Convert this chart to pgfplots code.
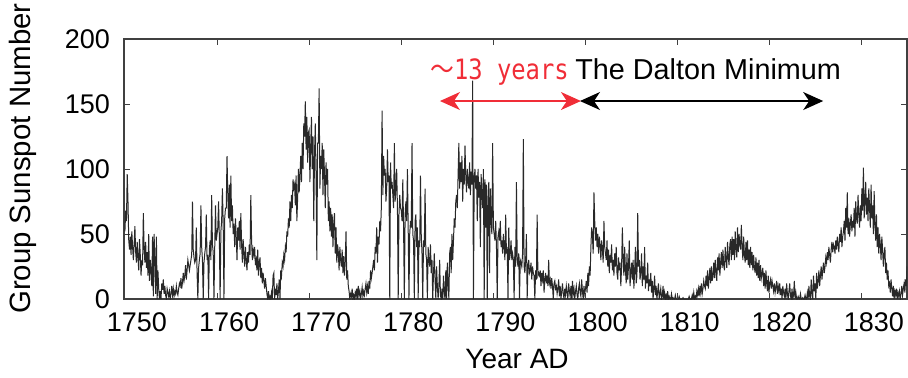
\documentclass[border=0pt]{standalone}
\usepackage{pgfplots}
\pgfplotsset{compat=1.18}
\usepackage{fontspec}
\setmainfont{Liberation Sans}
\newfontfamily\cjk[FakeStretch=0.85]{Noto Sans CJK JP}
\newfontfamily\monofont[FakeStretch=0.85]{DejaVu Sans Mono}
\usetikzlibrary{arrows.meta}
\definecolor{spot}{RGB}{40,40,40}
\definecolor{cyclered}{RGB}{240,45,55}

\begin{document}
\begin{tikzpicture}
\begin{axis}[
  at={(0,0)}, anchor=south west,
  scale only axis, width=391.5pt, height=130pt,
  xmin=1749.9, xmax=1834.9, ymin=0, ymax=200,
  xtick={1750,1760,...,1830}, ytick={0,50,...,200},
  tick align=inside, major tick length=3pt,
  axis line style={black!75, line width=0.6pt},
  every tick/.style={black!75, line width=0.5pt},
  tick label style={font=\fontsize{13.5}{16}\selectfont},
  xticklabel style={yshift=-3.5pt, xshift=6pt},
  yticklabel style={xshift=-3.5pt},
  /pgf/number format/assume math mode=true,
  /pgf/number format/1000 sep={},
  xlabel={Year AD}, ylabel={Group Sunspot Number},
  xlabel style={font=\fontsize{14}{16}\selectfont,
    at={(axis description cs:0.502,-0.231)}, anchor=center},
  ylabel style={font=\fontsize{14.7}{16}\selectfont,
    at={(axis description cs:-0.129,0.54)}, anchor=center},
]
% monthly group sunspot numbers, 1750.0 onwards, one value per month
\addplot[spot, line width=0.5pt] table[row sep=\\, header=false, y index=0,
  x expr=1750+\coordindex/12] {
52\\ 68\\ 60\\ 96\\ 75\\ 45\\ 38\\ 48\\ 34\\ 52\\ 40\\ 30\\
42\\ 56\\ 36\\ 28\\ 44\\ 32\\ 22\\ 46\\ 34\\ 18\\ 30\\ 26\\
66\\ 40\\ 28\\ 44\\ 24\\ 36\\ 18\\ 50\\ 14\\ 30\\ 22\\ 10\\
48\\ 2\\ 50\\ 30\\ 4\\ 48\\ 0\\ 22\\ 8\\ 0\\ 6\\ 0\\
12\\ 7\\ 15\\ 4\\ 10\\ 3\\ 0\\ 8\\ 5\\ 2\\ 6\\ 0\\
4\\ 10\\ 3\\ 8\\ 2\\ 6\\ 4\\ 10\\ 5\\ 3\\ 8\\ 12\\
10\\ 16\\ 8\\ 13\\ 20\\ 14\\ 18\\ 26\\ 15\\ 22\\ 30\\ 26\\
22\\ 26\\ 30\\ 34\\ 75\\ 38\\ 32\\ 28\\ 30\\ 55\\ 20\\ 0\\
24\\ 30\\ 35\\ 72\\ 40\\ 30\\ 0\\ 28\\ 35\\ 40\\ 65\\ 30\\
34\\ 0\\ 38\\ 45\\ 30\\ 80\\ 42\\ 36\\ 0\\ 40\\ 72\\ 45\\
50\\ 55\\ 75\\ 48\\ 0\\ 52\\ 60\\ 85\\ 58\\ 0\\ 62\\ 70\\
70\\ 110\\ 80\\ 62\\ 88\\ 55\\ 95\\ 60\\ 72\\ 50\\ 58\\ 40\\
62\\ 48\\ 30\\ 55\\ 45\\ 60\\ 38\\ 66\\ 42\\ 28\\ 46\\ 35\\
25\\ 40\\ 30\\ 22\\ 36\\ 28\\ 42\\ 34\\ 80\\ 45\\ 30\\ 38\\
34\\ 40\\ 26\\ 30\\ 22\\ 38\\ 18\\ 28\\ 32\\ 16\\ 24\\ 12\\
20\\ 14\\ 8\\ 16\\ 10\\ 4\\ 0\\ 6\\ 0\\ 2\\ 0\\ 5\\
0\\ 18\\ 20\\ 0\\ 8\\ 3\\ 12\\ 0\\ 6\\ 15\\ 0\\ 22\\
18\\ 28\\ 25\\ 34\\ 30\\ 40\\ 36\\ 52\\ 48\\ 62\\ 55\\ 75\\
60\\ 80\\ 70\\ 92\\ 85\\ 88\\ 72\\ 95\\ 60\\ 78\\ 100\\ 82\\
95\\ 110\\ 90\\ 120\\ 100\\ 135\\ 125\\ 152\\ 115\\ 140\\ 105\\ 128\\
130\\ 90\\ 118\\ 140\\ 100\\ 125\\ 60\\ 112\\ 135\\ 95\\ 30\\ 120\\
120\\ 162\\ 85\\ 110\\ 100\\ 120\\ 80\\ 115\\ 95\\ 70\\ 105\\ 88\\
100\\ 60\\ 75\\ 52\\ 70\\ 48\\ 65\\ 40\\ 58\\ 66\\ 35\\ 55\\
28\\ 42\\ 36\\ 22\\ 40\\ 30\\ 25\\ 38\\ 20\\ 33\\ 18\\ 28\\
52\\ 15\\ 22\\ 10\\ 6\\ 0\\ 4\\ 2\\ 8\\ 0\\ 3\\ 0\\
5\\ 2\\ 8\\ 0\\ 10\\ 3\\ 6\\ 0\\ 4\\ 9\\ 2\\ 6\\
3\\ 8\\ 12\\ 5\\ 10\\ 4\\ 14\\ 8\\ 22\\ 16\\ 20\\ 25\\
30\\ 22\\ 40\\ 35\\ 55\\ 28\\ 48\\ 42\\ 60\\ 52\\ 70\\ 145\\
80\\ 110\\ 95\\ 100\\ 75\\ 85\\ 115\\ 90\\ 95\\ 0\\ 105\\ 85\\
90\\ 80\\ 70\\ 120\\ 75\\ 85\\ 100\\ 70\\ 0\\ 65\\ 80\\ 70\\
68\\ 60\\ 92\\ 55\\ 0\\ 65\\ 75\\ 60\\ 100\\ 55\\ 0\\ 50\\
60\\ 55\\ 120\\ 50\\ 45\\ 0\\ 60\\ 65\\ 40\\ 55\\ 0\\ 45\\
40\\ 95\\ 50\\ 35\\ 0\\ 45\\ 40\\ 85\\ 35\\ 30\\ 0\\ 40\\
30\\ 25\\ 42\\ 20\\ 30\\ 0\\ 20\\ 35\\ 15\\ 0\\ 25\\ 10\\
0\\ 10\\ 30\\ 3\\ 0\\ 8\\ 0\\ 18\\ 5\\ 0\\ 22\\ 0\\
28\\ 12\\ 0\\ 35\\ 40\\ 20\\ 50\\ 30\\ 45\\ 62\\ 55\\ 75\\
80\\ 70\\ 95\\ 120\\ 85\\ 105\\ 90\\ 110\\ 75\\ 100\\ 88\\ 118\\
95\\ 82\\ 100\\ 90\\ 85\\ 105\\ 80\\ 98\\ 88\\ 168\\ 0\\ 92\\
100\\ 85\\ 95\\ 60\\ 100\\ 78\\ 90\\ 40\\ 96\\ 82\\ 70\\ 100\\
0\\ 92\\ 55\\ 88\\ 0\\ 75\\ 90\\ 20\\ 85\\ 60\\ 50\\ 120\\
55\\ 50\\ 45\\ 60\\ 40\\ 0\\ 48\\ 52\\ 45\\ 60\\ 40\\ 45\\
35\\ 50\\ 40\\ 30\\ 65\\ 35\\ 40\\ 0\\ 55\\ 30\\ 35\\ 45\\
30\\ 35\\ 30\\ 0\\ 40\\ 25\\ 90\\ 30\\ 25\\ 35\\ 0\\ 30\\
28\\ 25\\ 35\\ 123\\ 25\\ 20\\ 30\\ 50\\ 0\\ 25\\ 30\\ 20\\
22\\ 28\\ 15\\ 25\\ 20\\ 18\\ 0\\ 22\\ 15\\ 65\\ 18\\ 20\\
18\\ 22\\ 10\\ 20\\ 15\\ 22\\ 5\\ 15\\ 20\\ 12\\ 18\\ 10\\
30\\ 12\\ 15\\ 8\\ 16\\ 10\\ 0\\ 12\\ 14\\ 8\\ 10\\ 4\\
8\\ 15\\ 2\\ 10\\ 0\\ 6\\ 12\\ 4\\ 0\\ 8\\ 3\\ 10\\
5\\ 0\\ 12\\ 6\\ 2\\ 10\\ 0\\ 14\\ 4\\ 8\\ 0\\ 6\\
10\\ 3\\ 0\\ 8\\ 12\\ 5\\ 2\\ 15\\ 6\\ 0\\ 10\\ 4\\
8\\ 14\\ 5\\ 20\\ 10\\ 25\\ 18\\ 40\\ 55\\ 48\\ 35\\ 82\\
60\\ 45\\ 55\\ 40\\ 50\\ 35\\ 48\\ 42\\ 30\\ 45\\ 38\\ 28\\
60\\ 40\\ 35\\ 30\\ 45\\ 25\\ 38\\ 20\\ 34\\ 28\\ 42\\ 22\\
30\\ 18\\ 35\\ 25\\ 40\\ 20\\ 15\\ 32\\ 22\\ 28\\ 10\\ 25\\
55\\ 30\\ 18\\ 40\\ 22\\ 12\\ 35\\ 15\\ 25\\ 45\\ 10\\ 20\\
28\\ 15\\ 30\\ 8\\ 22\\ 40\\ 12\\ 18\\ 66\\ 25\\ 30\\ 15\\
20\\ 35\\ 10\\ 25\\ 15\\ 40\\ 8\\ 18\\ 12\\ 28\\ 6\\ 15\\
10\\ 20\\ 5\\ 14\\ 0\\ 8\\ 18\\ 3\\ 10\\ 0\\ 6\\ 12\\
0\\ 4\\ 8\\ 0\\ 2\\ 10\\ 0\\ 5\\ 0\\ 3\\ 0\\ 6\\
0\\ 2\\ 0\\ 0\\ 4\\ 0\\ 1\\ 0\\ 0\\ 3\\ 0\\ 0\\
0\\ 0\\ 2\\ 0\\ 0\\ 0\\ 0\\ 1\\ 0\\ 0\\ 0\\ 0\\
0\\ 0\\ 0\\ 2\\ 0\\ 0\\ 0\\ 3\\ 0\\ 5\\ 0\\ 2\\
0\\ 6\\ 3\\ 8\\ 2\\ 10\\ 5\\ 12\\ 4\\ 8\\ 14\\ 10\\
8\\ 18\\ 10\\ 22\\ 8\\ 16\\ 24\\ 12\\ 25\\ 14\\ 18\\ 28\\
16\\ 30\\ 20\\ 14\\ 32\\ 22\\ 35\\ 18\\ 28\\ 36\\ 24\\ 38\\
26\\ 22\\ 40\\ 30\\ 24\\ 44\\ 32\\ 26\\ 42\\ 46\\ 30\\ 48\\
34\\ 46\\ 30\\ 52\\ 38\\ 32\\ 55\\ 36\\ 50\\ 42\\ 38\\ 57\\
40\\ 30\\ 48\\ 34\\ 28\\ 44\\ 30\\ 45\\ 26\\ 38\\ 24\\ 40\\
26\\ 36\\ 22\\ 34\\ 24\\ 20\\ 32\\ 18\\ 28\\ 16\\ 30\\ 14\\
26\\ 16\\ 20\\ 24\\ 10\\ 20\\ 8\\ 22\\ 12\\ 6\\ 18\\ 5\\
12\\ 15\\ 8\\ 14\\ 10\\ 6\\ 12\\ 5\\ 9\\ 14\\ 4\\ 10\\
6\\ 12\\ 3\\ 8\\ 0\\ 10\\ 5\\ 2\\ 8\\ 0\\ 12\\ 4\\
0\\ 6\\ 12\\ 2\\ 0\\ 8\\ 0\\ 3\\ 14\\ 0\\ 5\\ 0\\
0\\ 2\\ 0\\ 0\\ 4\\ 0\\ 0\\ 1\\ 0\\ 0\\ 3\\ 0\\
0\\ 5\\ 0\\ 10\\ 2\\ 0\\ 15\\ 4\\ 0\\ 18\\ 6\\ 12\\
0\\ 20\\ 8\\ 14\\ 22\\ 10\\ 18\\ 25\\ 15\\ 22\\ 28\\ 20\\
25\\ 32\\ 28\\ 36\\ 30\\ 40\\ 34\\ 28\\ 38\\ 44\\ 36\\ 42\\
40\\ 35\\ 45\\ 38\\ 48\\ 42\\ 36\\ 50\\ 44\\ 55\\ 40\\ 48\\
52\\ 60\\ 45\\ 70\\ 55\\ 82\\ 50\\ 62\\ 48\\ 58\\ 65\\ 52\\
60\\ 55\\ 70\\ 48\\ 75\\ 62\\ 58\\ 80\\ 65\\ 55\\ 72\\ 60\\
85\\ 68\\ 101\\ 62\\ 75\\ 90\\ 65\\ 78\\ 60\\ 85\\ 70\\ 55\\
88\\ 62\\ 72\\ 50\\ 83\\ 58\\ 45\\ 65\\ 40\\ 55\\ 35\\ 50\\
42\\ 30\\ 48\\ 38\\ 25\\ 35\\ 40\\ 20\\ 28\\ 15\\ 22\\ 10\\
12\\ 5\\ 15\\ 8\\ 2\\ 10\\ 0\\ 6\\ 3\\ 8\\ 0\\ 5\\
2\\ 6\\ 0\\ 4\\ 10\\ 3\\ 8\\ 12\\ 5\\ 15\\ 10\\ 25\\
};
% Dalton Minimum span and the preceding long cycle
\draw[black, line width=0.6pt,
  {Stealth[length=10pt,width=9pt,inset=3pt]}-{Stealth[length=10pt,width=9pt,inset=3pt]}]
  (axis cs:1799.4,152.3) -- (axis cs:1825.8,152.3);
\draw[cyclered, line width=0.6pt,
  {Stealth[length=10pt,width=9pt,inset=3pt]}-{Stealth[length=10pt,width=9pt,inset=3pt]}]
  (axis cs:1784.2,152.3) -- (axis cs:1799.5,152.3);
\node[anchor=base west, inner sep=0pt, text=cyclered]
  at (axis cs:1783.1,168.5) {\fontsize{14}{16}\selectfont{\cjk ～}{\monofont 13 years}};
\node[anchor=base west, inner sep=0pt]
  at (axis cs:1798.85,168.5) {\fontsize{14.4}{16}\selectfont The Dalton Minimum};
\end{axis}
\pgfresetboundingbox
\path[use as bounding box] (-62pt,-39pt) rectangle (392pt,149.5pt);
\end{tikzpicture}
\end{document}
